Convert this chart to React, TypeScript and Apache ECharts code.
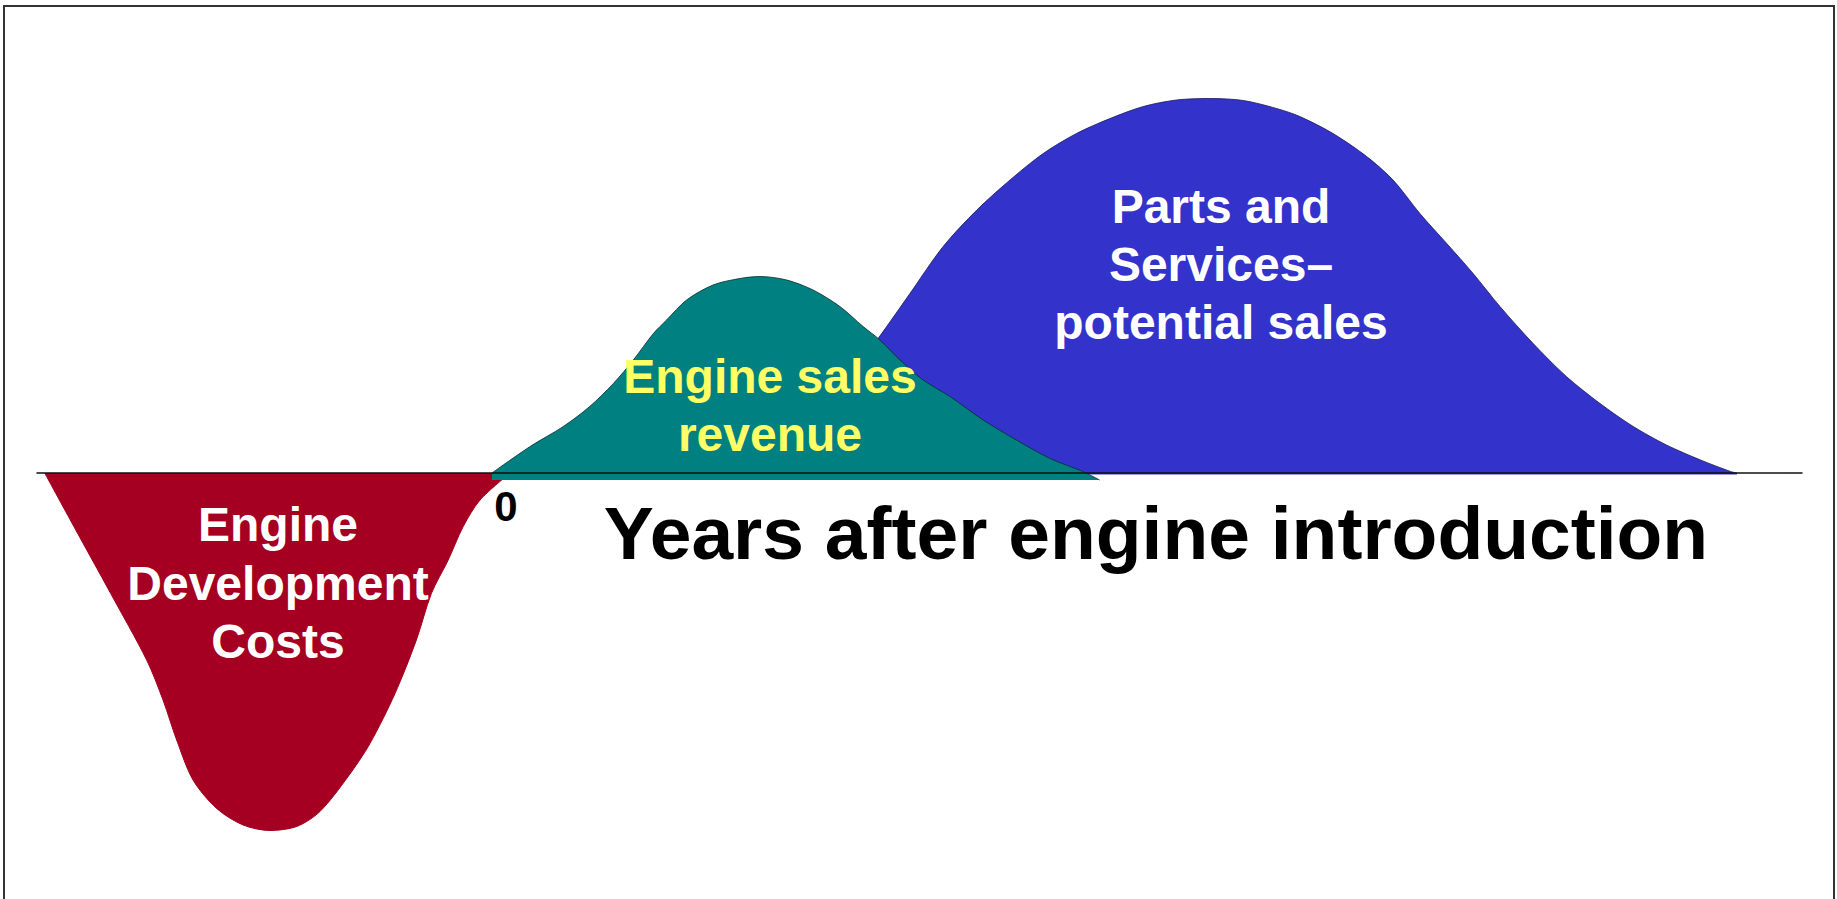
import React, { useEffect, useRef } from "react";
import * as echarts from "echarts";

// x: years relative to engine introduction (0), y: cash flow (arbitrary units)
const devCosts: [number, number][] = [
  [-9.83, 0], [-9.19, -1.07], [-8.38, -2.41], [-7.59, -3.74], [-7.23, -4.54],
  [-6.93, -5.34], [-6.57, -6.14], [-6.05, -6.71], [-5.47, -7.04], [-4.88, -7.15],
  [-4.29, -7.07], [-3.78, -6.77], [-3.16, -6.07], [-2.68, -5.41], [-2.13, -4.41],
  [-1.66, -3.34], [-1.33, -2.41], [-0.96, -1.74], [-0.63, -1.07], [-0.26, -0.54],
  [0.4, 0],
];
const engineSales: [number, number][] = [
  [0, 0], [0.84, 0.53], [1.57, 0.93], [2.15, 1.33], [2.67, 1.79], [3.11, 2.26],
  [3.55, 2.79], [3.84, 3.06], [4.28, 3.46], [4.86, 3.76], [5.45, 3.89],
  [5.89, 3.93], [6.48, 3.86], [7.06, 3.66], [7.65, 3.33], [8.16, 2.93],
  [8.53, 2.66], [8.97, 2.26], [9.48, 1.86], [10.07, 1.53], [10.8, 1.06],
  [11.53, 0.66], [12.27, 0.29], [12.99, 0.03], [13.36, -0.14],
];
const partsServices: [number, number][] = [
  [5.89, 0], [7.32, 1.26], [8.49, 2.69], [9.19, 3.59], [9.92, 4.53],
  [10.66, 5.26], [11.39, 5.86], [12.12, 6.39], [12.85, 6.79], [13.59, 7.09],
  [14.32, 7.33], [15.05, 7.46], [15.78, 7.49], [16.52, 7.45], [17.25, 7.29],
  [17.76, 7.13], [18.49, 6.79], [19.23, 6.33], [19.81, 5.86], [20.4, 5.19],
  [20.99, 4.59], [21.57, 3.99], [22.16, 3.33], [22.89, 2.59], [23.62, 1.93],
  [24.36, 1.39], [25.09, 0.93], [25.82, 0.56], [26.57, 0.26], [27.23, 0.03],
  [27.37, 0],
];
const devLabel = "Engine\nDevelopment\nCosts";
const salesLabel = "Engine sales\nrevenue";
const partsLabel = "Parts and\nServices–\npotential sales";
const zeroLabel = "0";
const axisTitle = "Years after engine introduction";

const FONT = '"Liberation Sans", Arial, Helvetica, sans-serif';

export default function App() {
  const ref = useRef<HTMLDivElement>(null);
  useEffect(() => {
    if (!ref.current) return;
    const chart = echarts.init(ref.current, undefined, { renderer: "svg" });
    const txt = (text: string, x: number, y: number, size: number, fill: string, lh: number) => ({
      type: "text",
      z: 100,
      style: {
        text, x, y, fill,
        font: `bold ${size}px ${FONT}`,
        align: "center", verticalAlign: "middle",
        textAlign: "center", textVerticalAlign: "middle",
        lineHeight: lh,
      },
    });
    chart.setOption({
      animation: false,
      backgroundColor: "#ffffff",
      grid: { left: 37, right: 35, top: 73, bottom: 26 },
      xAxis: {
        type: "value", min: -10, max: 28.8, z: 10,
        axisLine: { show: true, onZero: true, lineStyle: { color: "#111", width: 1.5 } },
        axisTick: { show: false }, axisLabel: { show: false }, splitLine: { show: false },
      },
      yAxis: {
        type: "value", min: -8, max: 8, show: false,
        splitLine: { show: false },
      },
      series: [
        {
          name: "Engine Development Costs", type: "line", data: devCosts, smooth: 0.3,
          symbol: "none", z: 2, lineStyle: { color: "#A50021", width: 1 },
          areaStyle: { color: "#A50021", opacity: 1, origin: 0 },
        },
        {
          name: "Parts and Services", type: "line", data: partsServices, smooth: 0.3,
          symbol: "none", z: 3, lineStyle: { color: "#1a1a55", width: 1, opacity: 0.8 },
          areaStyle: { color: "#3333CC", opacity: 1, origin: -0.03 },
        },
        {
          name: "Engine sales revenue", type: "line", data: engineSales, smooth: 0.3,
          symbol: "none", z: 4, lineStyle: { color: "#0a2a2a", width: 1, opacity: 0.8 },
          areaStyle: { color: "#008080", opacity: 1, origin: -0.14 },
        },
      ],
      graphic: [
        {
          type: "rect", z: 100,
          shape: { x: 4, y: 6, width: 1830, height: 1000 },
          style: { fill: "none", stroke: "#333", lineWidth: 2 },
        },
        txt(devLabel, 278, 583, 48, "#ffffff", 58.5),
        txt(salesLabel, 770, 405, 48, "#FFFF66", 58),
        txt(partsLabel, 1221, 264, 48, "#ffffff", 58),
        txt(zeroLabel, 506, 506, 42, "#000000", 42),
        txt(axisTitle, 1156, 533, 75, "#000000", 75),
      ],
    });
    return () => chart.dispose();
  }, []);
  return (
    <div
      ref={ref}
      style={{ position: "absolute", left: 0, top: 0, width: 1837, height: 899 }}
    />
  );
}
